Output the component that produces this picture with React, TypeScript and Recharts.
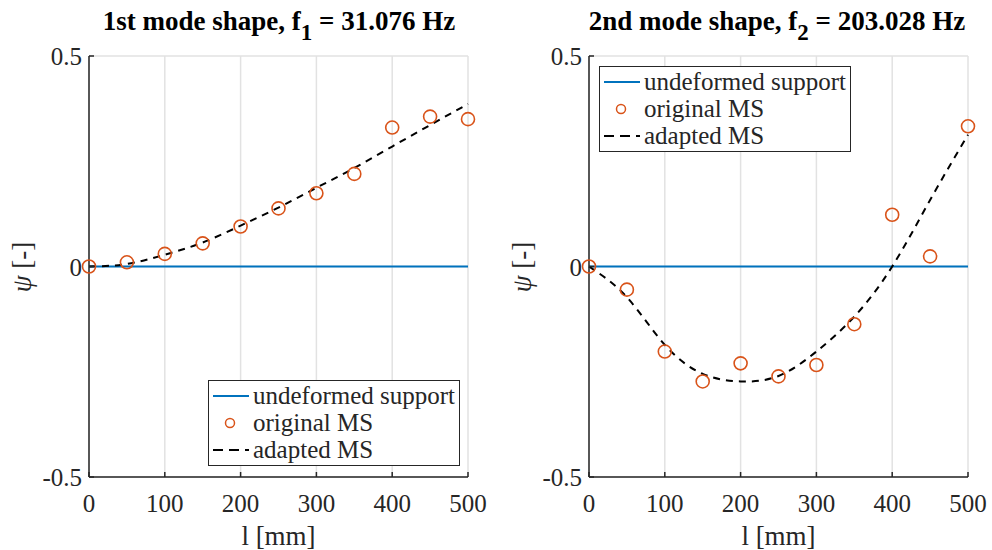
import React from 'react';
import { ComposedChart, Line, Scatter, XAxis, YAxis, CartesianGrid, Legend } from 'recharts';

const positions = [0, 50, 100, 150, 200, 250, 300, 350, 400, 450, 500];
const support = [0, 0, 0, 0, 0, 0, 0, 0, 0, 0, 0];
const mode1Original = [0, 0.01, 0.03, 0.055, 0.095, 0.138, 0.174, 0.22, 0.33, 0.356, 0.35];
const mode1Adapted = [0, 0.006, 0.028, 0.057, 0.097, 0.14, 0.187, 0.234, 0.285, 0.336, 0.386];
const mode2Original = [0, -0.055, -0.202, -0.273, -0.23, -0.261, -0.234, -0.137, 0.123, 0.024, 0.333];
const mode2Adapted = [0, -0.073, -0.186, -0.255, -0.273, -0.26, -0.202, -0.119, 0, 0.158, 0.313];
const xTicks = [0, 100, 200, 300, 400, 500];
const yTicks = [-0.5, 0, 0.5];
const seriesNames = ['undeformed support', 'original MS', 'adapted MS'];

const FONT = '"Liberation Serif", "Times New Roman", serif';
const BLUE = '#0072BD';
const ORANGE = '#D95319';
const AXIS = '#262626';

const XTick = (props: any) => {
  const { x, y, payload } = props;
  const axisY = y - 10;
  return (
    <g>
      <line x1={x} y1={axisY} x2={x} y2={axisY - 5} stroke={AXIS} strokeWidth={1.5} />
      <text x={x} y={axisY + 35} textAnchor="middle" style={{ fontFamily: FONT, fontSize: 25 }} fill={AXIS}>
        {payload.value}
      </text>
    </g>
  );
};

const YTick = (props: any) => {
  const { x, y, payload } = props;
  const axisX = x + 7;
  const v = payload.value;
  const label = v === 0 ? '0' : v > 0 ? String(v) : '-' + String(Math.abs(v));
  return (
    <g>
      <line x1={axisX} y1={y} x2={axisX + 5} y2={y} stroke={AXIS} strokeWidth={1.5} />
      <text x={x} y={y + 9} textAnchor="end" style={{ fontFamily: FONT, fontSize: 25 }} fill={AXIS}>
        {label}
      </text>
    </g>
  );
};

const XLabel = (props: any) => {
  const { viewBox } = props;
  const cx = viewBox.x + viewBox.width / 2;
  return (
    <text x={cx} y={545} textAnchor="middle" style={{ fontFamily: FONT, fontSize: 27 }} fill={AXIS}>
      l [mm]
    </text>
  );
};

const YLabel = (props: any) => {
  const { viewBox } = props;
  const cx = viewBox.x + viewBox.width - 67;
  const cy = 267;
  return (
    <text
      x={cx}
      y={cy}
      transform={`rotate(-90 ${cx} ${cy})`}
      textAnchor="middle"
      dominantBaseline="central"
      style={{ fontFamily: FONT, fontSize: 27 }}
      fill={AXIS}
    >
      <tspan fontStyle="italic">ψ</tspan> [-]
    </text>
  );
};

const Circle = (props: any) => {
  const { cx, cy } = props;
  return <circle cx={cx} cy={cy} r={6.5} fill="none" stroke={ORANGE} strokeWidth={1.6} />;
};

const LegendBox = () => (
  <div
    style={{
      border: `1.5px solid ${AXIS}`,
      background: '#fff',
      fontFamily: FONT,
      fontSize: 25,
      color: AXIS,
      padding: '1px 4px 2px 3px',
      lineHeight: '27px',
      whiteSpace: 'nowrap',
    }}
  >
    <div style={{ display: 'flex', alignItems: 'center', height: 27 }}>
      <svg width={38} height={27}>
        <line x1={1} y1={14} x2={37} y2={14} stroke={BLUE} strokeWidth={2} />
      </svg>
      <span style={{ marginLeft: 3 }}>{seriesNames[0]}</span>
    </div>
    <div style={{ display: 'flex', alignItems: 'center', height: 27 }}>
      <svg width={38} height={27}>
        <circle cx={18} cy={14} r={4.5} fill="none" stroke={ORANGE} strokeWidth={1.5} />
      </svg>
      <span style={{ marginLeft: 3 }}>{seriesNames[1]}</span>
    </div>
    <div style={{ display: 'flex', alignItems: 'center', height: 27 }}>
      <svg width={38} height={27}>
        <line x1={1} y1={14} x2={37} y2={14} stroke="#000" strokeWidth={2} strokeDasharray="10 6" />
      </svg>
      <span style={{ marginLeft: 3 }}>{seriesNames[2]}</span>
    </div>
  </div>
);

function buildData(orig: number[], adapted: number[]) {
  return positions.map((l, i) => ({ l, support: support[i], orig: orig[i], adapted: adapted[i] }));
}

type PanelProps = {
  data: any[];
  marginLeft: number;
  marginRight: number;
  legendLeft: number;
  legendTop: number;
  title: string;
  sub: string;
  freq: string;
  titleCenter: number;
};

const Panel = ({ data, marginLeft, marginRight, legendLeft, legendTop, title, sub, freq, titleCenter }: PanelProps) => (
  <div style={{ position: 'relative', width: 496, height: 550 }}>
    <div
      style={{
        position: 'absolute',
        top: 4,
        left: titleCenter - 250,
        width: 500,
        textAlign: 'center',
        fontFamily: FONT,
        fontWeight: 'bold',
        fontSize: 27,
        color: '#000',
        lineHeight: '34px',
        whiteSpace: 'nowrap',
      }}
    >
      {title}, f<sub style={{ fontSize: 23, verticalAlign: 'baseline', position: 'relative', top: 10 }}>{sub}</sub> = {freq}
    </div>
    <ComposedChart
      width={496}
      height={550}
      data={data}
      margin={{ top: 56, right: marginRight, bottom: 33, left: marginLeft }}
    >
      <CartesianGrid stroke="#e2e2e2" strokeWidth={1.5} verticalValues={xTicks} horizontalValues={yTicks} />
      <XAxis
        dataKey="l"
        type="number"
        domain={[0, 500]}
        ticks={xTicks}
        tickSize={0}
        tickMargin={10}
        tick={(p: any) => <XTick {...p} />}
        height={40}
        axisLine={{ stroke: AXIS, strokeWidth: 1.5 }}
        tickLine={false}
        label={<XLabel />}
      />
      <YAxis
        type="number"
        domain={[-0.5, 0.5]}
        ticks={yTicks}
        tickSize={0}
        tickMargin={7}
        tick={(p: any) => <YTick {...p} />}
        width={60}
        axisLine={{ stroke: AXIS, strokeWidth: 1.5 }}
        tickLine={false}
        label={<YLabel />}
      />
      <Line dataKey="support" stroke={BLUE} strokeWidth={2} dot={false} isAnimationActive={false} />
      <Scatter dataKey="orig" shape={<Circle />} isAnimationActive={false} />
      <Line
        dataKey="adapted"
        type="natural"
        stroke="#000"
        strokeWidth={2}
        strokeDasharray="7 6"
        dot={false}
        isAnimationActive={false}
      />
      <Legend
        layout="vertical"
        align="center"
        verticalAlign="middle"
        content={<LegendBox />}
        wrapperStyle={{ left: legendLeft, top: legendTop, width: 'auto' }}
      />
    </ComposedChart>
  </div>
);

export default function App() {
  return (
    <div style={{ position: 'absolute', left: 0, top: 0, width: 992, height: 550, background: '#fff', display: 'flex' }}>
      <Panel
        data={buildData(mode1Original, mode1Adapted)}
        marginLeft={29}
        marginRight={28}
        legendLeft={208}
        legendTop={380}
        title="1st mode shape"
        sub="1"
        freq="31.076 Hz"
        titleCenter={279}
      />
      <Panel
        data={buildData(mode2Original, mode2Adapted)}
        marginLeft={33}
        marginRight={24}
        legendLeft={103}
        legendTop={66}
        title="2nd mode shape"
        sub="2"
        freq="203.028 Hz"
        titleCenter={281}
      />
    </div>
  );
}
